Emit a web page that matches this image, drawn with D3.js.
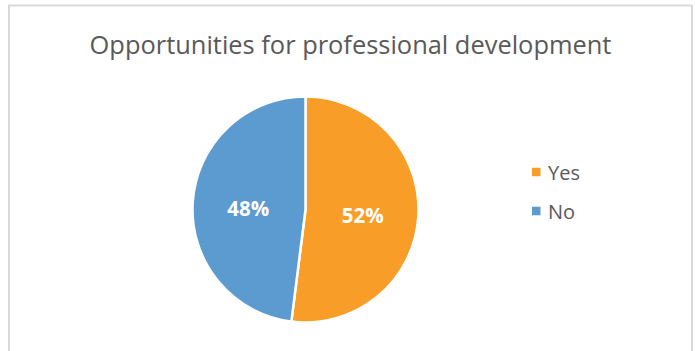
<!DOCTYPE html>
<html>
<head>
<meta charset="utf-8">
<script src="https://cdn.jsdelivr.net/npm/d3@7"></script>
<style>
  html, body { margin: 0; padding: 0; background: #fff; }
  svg { display: block; }
</style>
</head>
<body>
<svg id="chart" width="695" height="351"></svg>
<script>
// Survey answers
const categories = ["Yes", "No"];
const shares = [52, 48];
const colors = ["#F89D27", "#5B9BD0"];
const chartTitle = "Opportunities for professional development";

const W = 695, H = 351;
const svg = d3.select("#chart");
const font = "'Open Sans', 'Noto Sans', sans-serif";

// Chart area frame
svg.append("rect")
  .attr("x", 9).attr("y", 5.5)
  .attr("width", 683).attr("height", 360)
  .attr("fill", "#fff")
  .attr("stroke", "#d9d9d9")
  .attr("stroke-width", 2);

// Title, sized to span its box
const title = svg.append("text")
  .attr("x", 350.5).attr("y", 53.5)
  .attr("text-anchor", "middle")
  .attr("font-family", font)
  .attr("font-size", 24)
  .attr("fill", "#595959")
  .text(chartTitle);
const tw = title.node().getComputedTextLength();
title.attr("font-size", 24 * 522 / tw);

// Pie
const cx = 305.5, cy = 209.5, r = 113;
const color = d3.scaleOrdinal().domain(categories).range(colors);
const data = categories.map((c, i) => ({ cat: c, value: shares[i] }));
const pie = d3.pie().value(d => d.value).sort(null);
const arcs = pie(data);
const arc = d3.arc().innerRadius(0).outerRadius(r);
const labelArc = d3.arc().innerRadius(r * 1.014).outerRadius(0);

const g = svg.append("g").attr("transform", `translate(${cx},${cy})`);
g.selectAll("path.slice")
  .data(arcs)
  .join("path")
  .attr("class", "slice")
  .attr("d", arc)
  .attr("fill", d => color(d.data.cat))
  .attr("stroke", "#fff")
  .attr("stroke-width", 2.5)
  .attr("stroke-linejoin", "round");

g.selectAll("text.val")
  .data(arcs)
  .join("text")
  .attr("class", "val")
  .attr("transform", d => {
    const [x, y] = labelArc.centroid(d);
    return `translate(${x},${y + 2})`;
  })
  .attr("text-anchor", "middle")
  .attr("dominant-baseline", "central")
  .attr("font-family", font)
  .attr("font-weight", "bold")
  .attr("font-size", 20.5)
  .attr("fill", "#fff")
  .text(d => d.data.value + "%");

// Legend
const legend = svg.append("g").attr("transform", "translate(532,172)");
const items = legend.selectAll("g")
  .data(categories)
  .join("g")
  .attr("transform", (d, i) => `translate(0,${i * 39})`);
items.append("rect")
  .attr("x", 0).attr("y", -4.25)
  .attr("width", 8.5).attr("height", 8.5)
  .attr("fill", d => color(d));
items.append("text")
  .attr("x", 16).attr("y", 0)
  .attr("dominant-baseline", "central")
  .attr("font-family", font)
  .attr("font-size", 20)
  .attr("fill", "#595959")
  .text(d => d);
</script>
</body>
</html>
